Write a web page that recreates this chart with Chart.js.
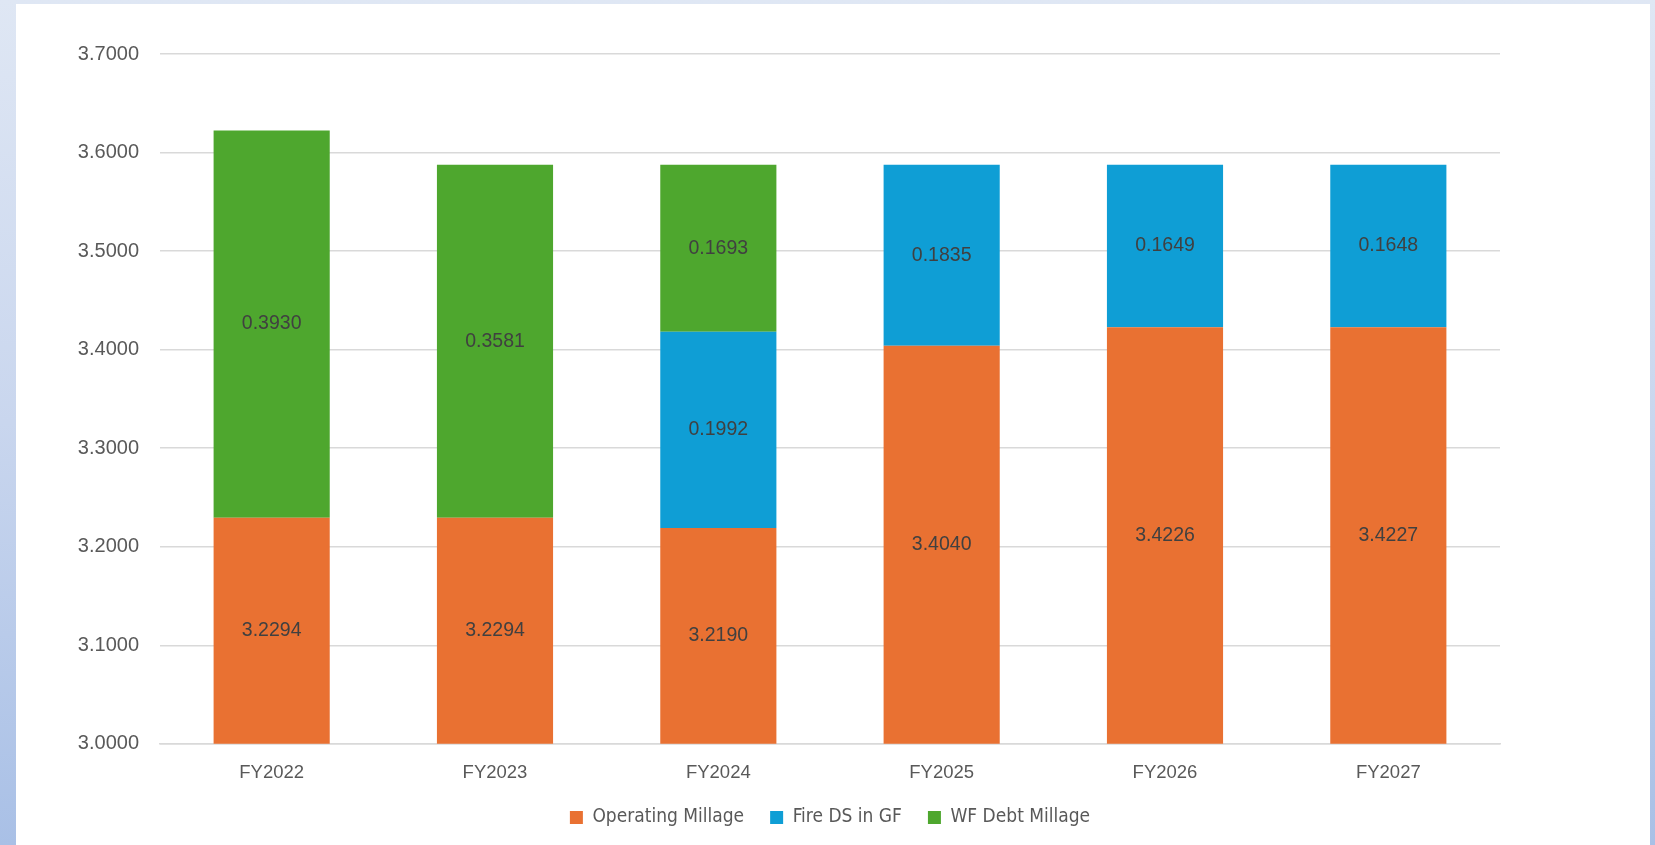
<!DOCTYPE html>
<html>
<head>
<meta charset="utf-8">
<script src="https://cdn.jsdelivr.net/npm/chart.js@4/dist/chart.umd.min.js"></script>
<style>
  html, body { margin:0; padding:0; }
  body { width:1655px; height:845px; overflow:hidden; position:relative;
         background: linear-gradient(to bottom, #dfe7f4 0%, #c9d6ee 50%, #a9c0e6 100%); }
  #panel { position:absolute; left:16px; top:4px; width:1634px; height:841px; background:#ffffff; }
  #wrap { position:absolute; left:0; top:0; width:1655px; height:845px; }
</style>
</head>
<body>
<div id="panel"></div>
<div id="wrap"><canvas id="c" width="1655" height="845"></canvas></div>
<script>
const categories = ['FY2022','FY2023','FY2024','FY2025','FY2026','FY2027'];
const operatingMillage = [3.2294, 3.2294, 3.2190, 3.4040, 3.4226, 3.4227];
const fireDSinGF       = [null,   null,   0.1992, 0.1835, 0.1649, 0.1648];
const wfDebtMillage    = [0.3930, 0.3581, 0.1693, null,   null,   null];
const seriesNames = ['Operating Millage','Fire DS in GF','WF Debt Millage'];
const seriesColors = ['#E97132','#0F9ED5','#4EA72E'];
const yMin = 3.0, yMax = 3.7, yStep = 0.1;

const valueLabels = {
  id: 'valueLabels',
  afterDatasetsDraw(chart) {
    const { ctx, chartArea } = chart;
    ctx.save();
    ctx.font = '19.5px "Liberation Sans", Arial, sans-serif';
    ctx.fillStyle = '#404040';
    ctx.textAlign = 'center';
    ctx.textBaseline = 'middle';
    chart.data.datasets.forEach((ds, i) => {
      const meta = chart.getDatasetMeta(i);
      if (meta.hidden) return;
      meta.data.forEach((el, j) => {
        const v = ds.data[j];
        if (v == null || v === 0) return;
        const top = Math.max(Math.min(el.y, el.base), chartArea.top);
        const bottom = Math.min(Math.max(el.y, el.base), chartArea.bottom);
        ctx.fillText(v.toFixed(4), el.x, (top + bottom) / 2);
      });
    });
    ctx.restore();
  }
};

const seriesData = [operatingMillage, fireDSinGF, wfDebtMillage];
new Chart(document.getElementById('c'), {
  type: 'bar',
  data: {
    labels: categories,
    datasets: seriesNames.map((n, i) => ({
      label: n,
      data: seriesData[i],
      backgroundColor: seriesColors[i],
      borderWidth: 0,
      categoryPercentage: 1.0,
      barPercentage: 0.52
    }))
  },
  options: {
    responsive: false,
    animation: false,
    layout: { padding: { left: 42, right: 155, top: 54, bottom: 8 } },
    plugins: {
      tooltip: { enabled: false },
      legend: {
        position: 'bottom',
        fullSize: false,
        labels: {
          boxWidth: 13, boxHeight: 13, padding: 26,
          color: '#595959',
          font: { family: '"DejaVu Sans Condensed", "Liberation Sans Narrow", sans-serif', size: 19 }
        }
      }
    },
    scales: {
      x: {
        stacked: true,
        afterFit(scale) { scale.height -= 20; },
        grid: { display: false, drawTicks: false },
        border: { display: true, color: '#D9D9D9', width: 1.5 },
        ticks: { color: '#595959', padding: 18, font: { family: '"Liberation Sans", Arial, sans-serif', size: 18.5 } }
      },
      y: {
        stacked: true,
        min: yMin, max: yMax,
        afterFit(scale) { scale.width = 118; },
        grid: { color: '#D9D9D9', lineWidth: 1.5, drawTicks: false },
        border: { display: false },
        ticks: {
          stepSize: yStep, padding: 21, color: '#595959',
          font: { family: '"Liberation Sans", Arial, sans-serif', size: 20 },
          callback: v => Number(v).toFixed(4)
        }
      }
    }
  },
  plugins: [valueLabels]
});
</script>
</body>
</html>
